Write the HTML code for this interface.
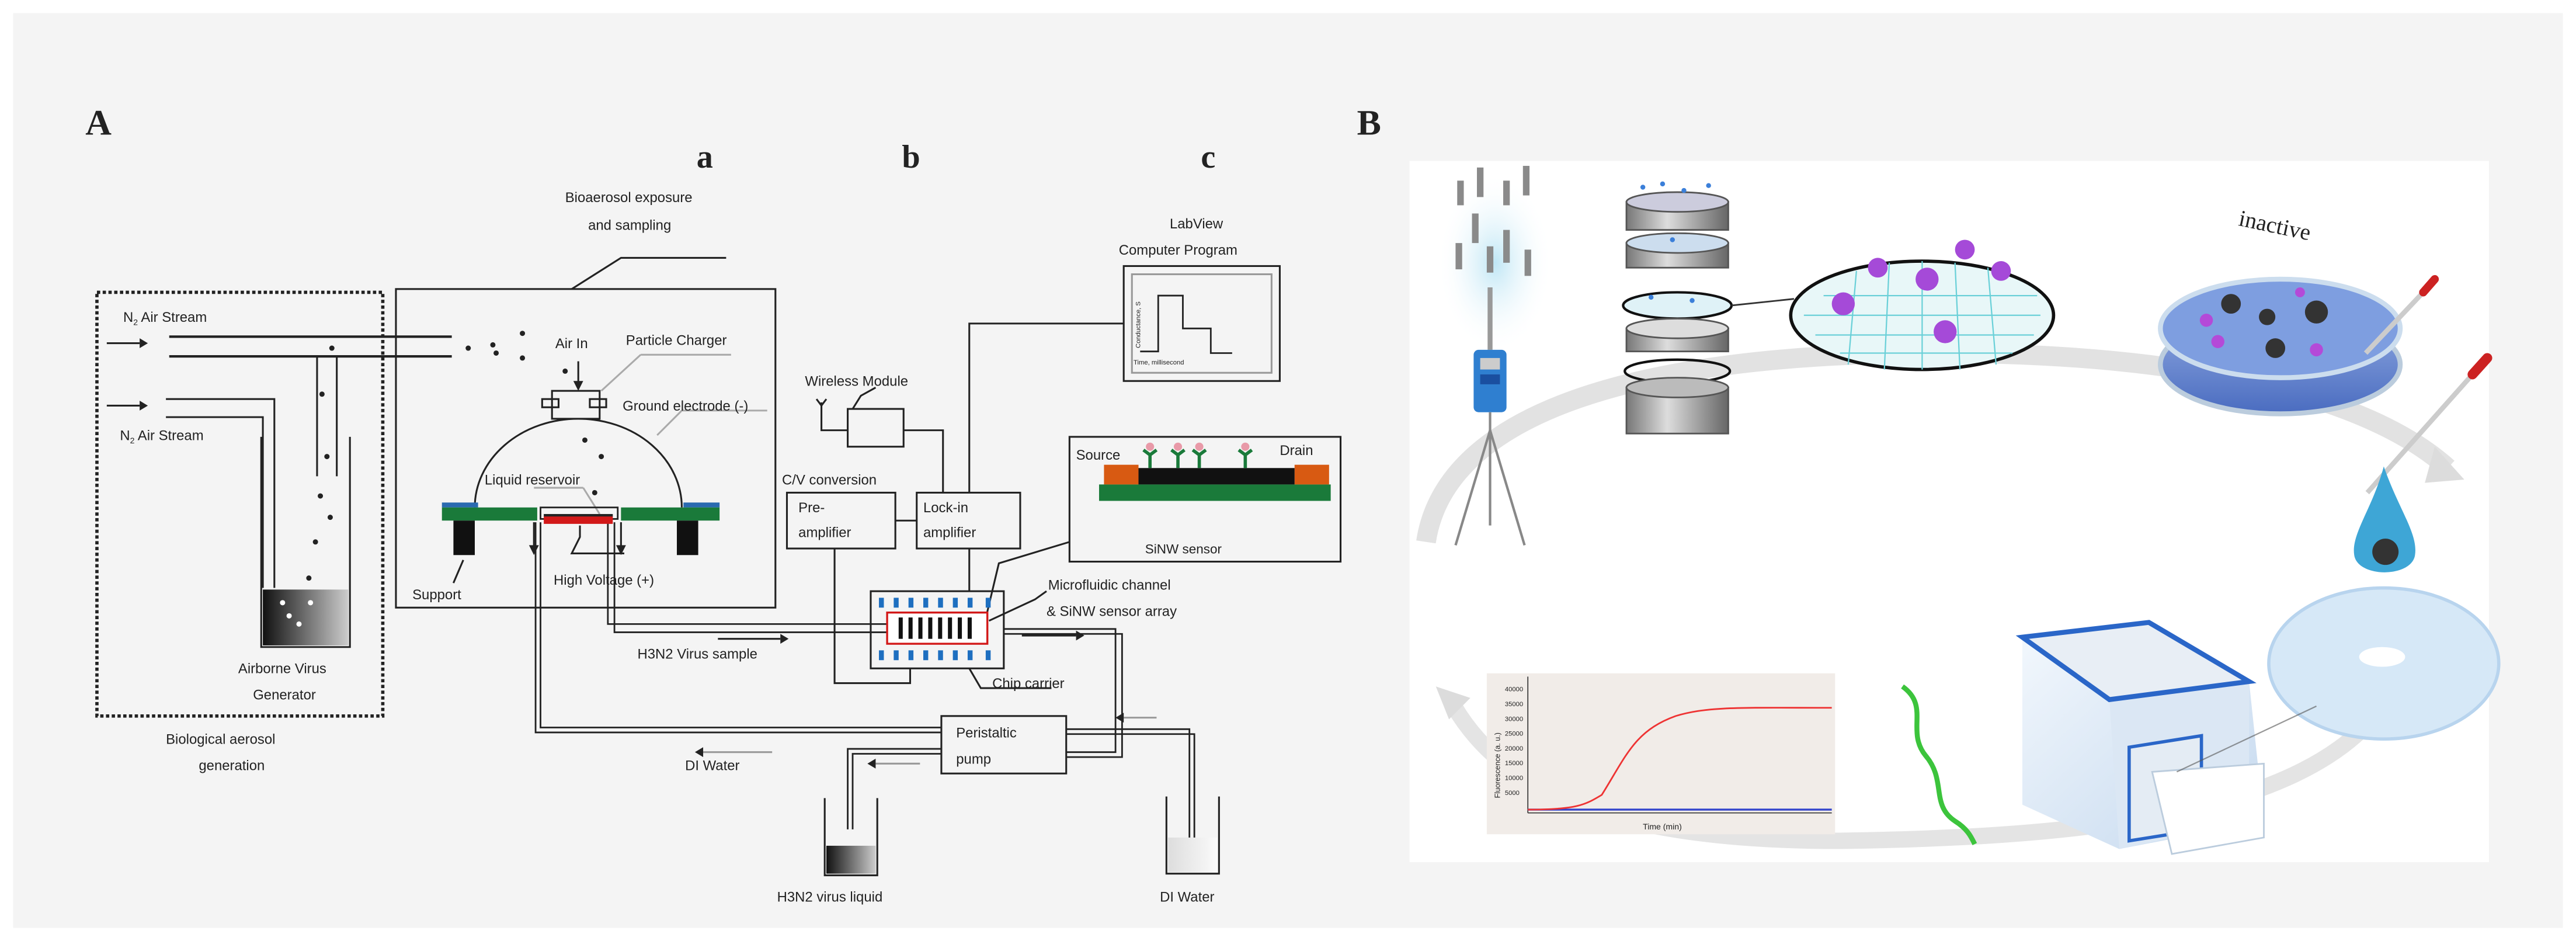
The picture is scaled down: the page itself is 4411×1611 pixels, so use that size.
<!DOCTYPE html>
<html><head><meta charset="utf-8"><style>
html,body{margin:0;padding:0;background:#fff;}
svg{display:block;}
text{font-family:"Liberation Sans",sans-serif;fill:#222;}
.s{font-family:"Liberation Serif",serif;font-weight:bold;}
</style></head><body>
<svg width="4411" height="1611" viewBox="0 0 1568 573" preserveAspectRatio="none" xmlns="http://www.w3.org/2000/svg">
<rect x="0" y="0" width="1568" height="573" fill="#fff"/>
<rect x="8" y="8" width="1552" height="557" fill="#f4f4f4"/>
<text class="s" x="52" y="82" font-size="22">A</text>
<text class="s" x="424" y="102" font-size="20">a</text>
<text class="s" x="549" y="102" font-size="20">b</text>
<text class="s" x="731" y="102" font-size="20">c</text>
<text class="s" x="826" y="82" font-size="22">B</text>

<g stroke="#222" fill="none" stroke-width="1.1">
<rect x="59" y="178" width="174" height="258" stroke-dasharray="2,1.5" stroke-width="2"/>
<rect x="241" y="176" width="231" height="194"/>
<polyline points="348,176 378,157 442,157"/>
<line x1="103" y1="205" x2="275" y2="205" stroke-width="1.5"/>
<line x1="103" y1="217" x2="275" y2="217" stroke-width="1.5"/>
<polyline points="193,217 193,290"/>
<polyline points="205,217 205,290"/>
<polyline points="101,243 167,243 167,358"/>
<polyline points="101,254 160,254 160,358"/>
<polyline points="159,266 159,394 213,394 213,266"/>
<line x1="65" y1="209" x2="85" y2="209"/><line x1="65" y1="247" x2="85" y2="247"/>
<path d="M289,309 A63,54 0 0 1 415,309"/>
<rect x="336" y="238" width="29" height="17" fill="#f4f4f4"/>
<rect x="330" y="243" width="10" height="5"/><rect x="359" y="243" width="10" height="5"/>
<line x1="352" y1="220" x2="352" y2="234"/>
<line x1="366" y1="238" x2="390" y2="216" stroke="#aaa"/><line x1="390" y1="216" x2="445" y2="216" stroke="#aaa"/>
<line x1="400" y1="265" x2="415" y2="250" stroke="#aaa"/><line x1="415" y1="250" x2="467" y2="250" stroke="#aaa"/>
<line x1="325" y1="297" x2="355" y2="297" stroke="#aaa"/><line x1="355" y1="297" x2="365" y2="313" stroke="#aaa"/>
<polyline points="282,341 276,355"/>
<polyline points="353,320 353,327 348,337 380,337"/>
<rect x="684" y="162" width="95" height="70"/>
<rect x="689" y="167" width="85" height="60" stroke="#999"/>
<polyline points="694,214 705,214 705,180 720,180 720,200 737,200 737,215 750,215" stroke-width="1"/>
<polyline points="684,197 590,197 590,300"/>
<rect x="516" y="249" width="34" height="23"/>
<polyline points="500,245 500,262 516,262"/>
<polyline points="497,243 500,247 503,243"/>
<polyline points="550,262 574,262 574,300"/>
<polyline points="519,249 524,241 533,236"/>
<rect x="479" y="300" width="66" height="34"/>
<rect x="558" y="300" width="63" height="34"/>
<line x1="545" y1="317" x2="558" y2="317"/>
<polyline points="508,334 508,416 554,416 554,407"/>
<line x1="590" y1="334" x2="590" y2="360"/>
<rect x="651" y="266" width="165" height="76"/>
<polyline points="651,330 608,343 598,385"/>
<rect x="530" y="360" width="81" height="47"/>
<polyline points="602,378 630,365 637,360"/>
<polyline points="590,407 597,419 640,419"/>
<g stroke-width="1">
<polyline points="326,318 326,446 573,446"/><polyline points="329,318 329,443 573,443"/>
<polyline points="370,318 370,380 540,380"/><polyline points="374,318 374,385 540,385"/>
<polyline points="611,383 679,383 679,458 649,458"/><polyline points="611,386 683,386 683,461 649,461"/>
<polyline points="649,444 724,444 724,520"/><polyline points="649,447 727,447 727,520"/>
<polyline points="573,456 516,456 516,505"/><polyline points="573,459 519,459 519,505"/>
</g>
<rect x="573" y="436" width="76" height="35" fill="#f4f4f4"/>
<polyline points="502,486 502,533 534,533 534,486"/>
<polyline points="710,485 710,532 742,532 742,485"/>
<line x1="437" y1="389" x2="475" y2="389"/>
<line x1="622" y1="387" x2="655" y2="387"/>
<line x1="428" y1="458" x2="470" y2="458" stroke="#999"/>
<line x1="533" y1="465" x2="560" y2="465" stroke="#999"/>
<line x1="684" y1="437" x2="704" y2="437" stroke="#999"/>
<line x1="325" y1="318" x2="325" y2="334"/><line x1="378" y1="318" x2="378" y2="334"/>
</g>
<g fill="#222">
<polygon points="85,206 90,209 85,212"/><polygon points="85,244 90,247 85,250"/>
<polygon points="349,232 355,232 352,238"/>
<polygon points="475,386 480,389 475,392"/><polygon points="655,384 660,387 655,390"/>
<polygon points="428,455 423,458 428,461"/><polygon points="533,462 528,465 533,468"/>
<polygon points="684,434 679,437 684,440"/>
<polygon points="322,332 328,332 325,338"/><polygon points="375,332 381,332 378,338"/>
<circle cx="285" cy="212" r="1.6"/><circle cx="300" cy="210" r="1.6"/><circle cx="302" cy="215" r="1.6"/><circle cx="318" cy="203" r="1.6"/><circle cx="318" cy="218" r="1.6"/><circle cx="344" cy="226" r="1.6"/><circle cx="356" cy="268" r="1.6"/><circle cx="366" cy="278" r="1.6"/><circle cx="362" cy="300" r="1.6"/>
<circle cx="202" cy="212" r="1.6"/><circle cx="196" cy="240" r="1.6"/><circle cx="199" cy="278" r="1.6"/><circle cx="195" cy="302" r="1.6"/><circle cx="201" cy="315" r="1.6"/><circle cx="192" cy="330" r="1.6"/><circle cx="188" cy="352" r="1.6"/>
</g>
<defs>
<linearGradient id="lq" x1="0" y1="0" x2="1" y2="0"><stop offset="0" stop-color="#111"/><stop offset="1" stop-color="#ccc"/></linearGradient>
<linearGradient id="lq2" x1="0" y1="0" x2="1" y2="0"><stop offset="0" stop-color="#ddd"/><stop offset="1" stop-color="#fafafa"/></linearGradient>
</defs>
<rect x="160" y="359" width="52" height="34" fill="url(#lq)"/>
<g fill="#fff"><circle cx="172" cy="367" r="1.6"/><circle cx="176" cy="375" r="1.6"/><circle cx="182" cy="380" r="1.6"/><circle cx="189" cy="367" r="1.6"/></g>
<rect x="503" y="515" width="30" height="17" fill="url(#lq)"/>
<rect x="711" y="510" width="30" height="21" fill="url(#lq2)"/>
<rect x="269" y="306" width="22" height="3" fill="#2a6ab0"/><rect x="416" y="306" width="22" height="3" fill="#2a6ab0"/>
<rect x="269" y="309" width="58" height="8" fill="#1a7a3a"/><rect x="378" y="309" width="60" height="8" fill="#1a7a3a"/>
<rect x="329" y="309" width="47" height="7" fill="none" stroke="#222" stroke-width="1"/>
<rect x="331" y="314" width="42" height="5" fill="#d21818"/><rect x="331" y="313" width="42" height="1.5" fill="#222"/>
<rect x="276" y="317" width="13" height="21" fill="#111"/><rect x="412" y="317" width="13" height="21" fill="#111"/>
<rect x="669" y="295" width="141" height="10" fill="#1a7a3a"/>
<rect x="672" y="283" width="21" height="12" fill="#d85a12"/><rect x="788" y="283" width="21" height="12" fill="#d85a12"/>
<rect x="693" y="285" width="95" height="10" fill="#111"/>
<g stroke="#1a7a3a" stroke-width="2" fill="none">
<path d="M700,285 v-8 M696,274 l4,3 l4,-3"/><path d="M717,285 v-8 M713,274 l4,3 l4,-3"/><path d="M730,285 v-8 M726,274 l4,3 l4,-3"/><path d="M758,285 v-8 M754,274 l4,3 l4,-3"/>
</g>
<g fill="#e89aa8"><circle cx="700" cy="272" r="2.5"/><circle cx="717" cy="272" r="2.5"/><circle cx="730" cy="272" r="2.5"/><circle cx="758" cy="272" r="2.5"/></g>
<g fill="#1e6fc0">
<rect x="535" y="364" width="3" height="6"/><rect x="544" y="364" width="3" height="6"/><rect x="553" y="364" width="3" height="6"/><rect x="562" y="364" width="3" height="6"/><rect x="571" y="364" width="3" height="6"/><rect x="580" y="364" width="3" height="6"/><rect x="589" y="364" width="3" height="6"/><rect x="600" y="364" width="3" height="6"/>
<rect x="535" y="396" width="3" height="6"/><rect x="544" y="396" width="3" height="6"/><rect x="553" y="396" width="3" height="6"/><rect x="562" y="396" width="3" height="6"/><rect x="571" y="396" width="3" height="6"/><rect x="580" y="396" width="3" height="6"/><rect x="589" y="396" width="3" height="6"/><rect x="600" y="396" width="3" height="6"/>
</g>
<rect x="540" y="373" width="61" height="19" fill="#fff" stroke="#d21818" stroke-width="1.2"/>
<g fill="#111"><rect x="547" y="376" width="2.5" height="13"/><rect x="553" y="376" width="2.5" height="13"/><rect x="559" y="376" width="2.5" height="13"/><rect x="565" y="376" width="2.5" height="13"/><rect x="571" y="376" width="2.5" height="13"/><rect x="577" y="376" width="2.5" height="13"/><rect x="583" y="376" width="2.5" height="13"/><rect x="589" y="376" width="2.5" height="13"/></g>
<g font-size="8.5">
<text x="344" y="123">Bioaerosol exposure</text>
<text x="358" y="140">and sampling</text>
<text x="75" y="196">N<tspan font-size="5" dy="2">2</tspan><tspan dy="-2"> Air Stream</tspan></text>
<text x="73" y="268">N<tspan font-size="5" dy="2">2</tspan><tspan dy="-2"> Air Stream</tspan></text>
<text x="145" y="410">Airborne Virus</text>
<text x="154" y="426">Generator</text>
<text x="101" y="453">Biological aerosol</text>
<text x="121" y="469">generation</text>
<text x="338" y="212">Air In</text>
<text x="381" y="210">Particle Charger</text>
<text x="379" y="250">Ground electrode (-)</text>
<text x="295" y="295">Liquid reservoir</text>
<text x="251" y="365">Support</text>
<text x="337" y="356">High Voltage (+)</text>
<text x="712" y="139">LabView</text>
<text x="681" y="155">Computer Program</text>
<text x="490" y="235">Wireless Module</text>
<text x="476" y="295">C/V conversion</text>
<text x="486" y="312">Pre-</text><text x="486" y="327">amplifier</text>
<text x="562" y="312">Lock-in</text><text x="562" y="327">amplifier</text>
<text x="655" y="280">Source</text><text x="779" y="277">Drain</text>
<text x="697" y="337" font-size="8">SiNW sensor</text>
<text x="638" y="359">Microfluidic channel</text>
<text x="637" y="375">&amp; SiNW sensor array</text>
<text x="388" y="401">H3N2 Virus sample</text>
<text x="604" y="419">Chip carrier</text>
<text x="582" y="449">Peristaltic</text><text x="582" y="465">pump</text>
<text x="417" y="469">DI Water</text>
<text x="473" y="549">H3N2 virus liquid</text>
<text x="706" y="549">DI Water</text>
<text x="690" y="222" font-size="4">Time, millisecond</text>
<text x="0" y="0" font-size="4" transform="translate(694,212) rotate(-90)">Conductance, S</text>
</g>

<!-- PANEL B -->
<rect x="858" y="98" width="657" height="427" fill="#fff"/>
<defs>
<radialGradient id="glow"><stop offset="0" stop-color="#bfe6f5"/><stop offset="1" stop-color="#fff" stop-opacity="0"/></radialGradient>
<linearGradient id="met" x1="0" y1="0" x2="1" y2="0"><stop offset="0" stop-color="#777"/><stop offset=".4" stop-color="#ddd"/><stop offset="1" stop-color="#666"/></linearGradient>
<linearGradient id="dish" x1="0" y1="0" x2="0" y2="1"><stop offset="0" stop-color="#8fa8e0"/><stop offset="1" stop-color="#4a6cc0"/></linearGradient>
<linearGradient id="mach" x1="0" y1="0" x2="1" y2="1"><stop offset="0" stop-color="#f3f8fd"/><stop offset="1" stop-color="#c4d8ee"/></linearGradient>
</defs>
<path d="M868,330 C880,250 1000,215 1180,215 C1330,215 1440,240 1490,285" fill="none" stroke="#e2e2e2" stroke-width="12"/>
<polygon points="1482,272 1500,292 1476,294" fill="#dcdcdc"/>
<path d="M1450,430 C1400,500 1250,510 1120,512 C1000,512 920,490 885,430" fill="none" stroke="#e4e4e4" stroke-width="10"/>
<polygon points="874,418 882,438 895,425" fill="#dcdcdc"/>
<ellipse cx="910" cy="160" rx="35" ry="55" fill="url(#glow)"/>
<g fill="#8a8a8a">
<rect x="887" y="110" width="4" height="15"/><rect x="899" y="102" width="4" height="18"/><rect x="915" y="110" width="4" height="15"/><rect x="927" y="101" width="4" height="18"/>
<rect x="896" y="130" width="4" height="18"/><rect x="905" y="150" width="4" height="16"/><rect x="915" y="140" width="4" height="20"/><rect x="886" y="148" width="4" height="16"/><rect x="928" y="152" width="4" height="16"/>
</g>
<line x1="907" y1="175" x2="907" y2="213" stroke="#999" stroke-width="3"/>
<rect x="897" y="213" width="20" height="38" rx="3" fill="#2f7fd0"/>
<rect x="901" y="218" width="12" height="7" fill="#ccc"/><rect x="901" y="228" width="12" height="6" fill="#1a4fa0"/>
<g stroke="#888" stroke-width="1.5"><line x1="907" y1="251" x2="907" y2="320"/><line x1="907" y1="262" x2="886" y2="332"/><line x1="907" y1="262" x2="928" y2="332"/></g>
<g stroke="#555" stroke-width="1">
<rect x="990" y="123" width="62" height="17" fill="url(#met)"/><ellipse cx="1021" cy="123" rx="31" ry="6" fill="#ccd"/>
<rect x="990" y="148" width="62" height="15" fill="url(#met)"/><ellipse cx="1021" cy="148" rx="31" ry="6" fill="#cde"/>
<ellipse cx="1021" cy="186" rx="33" ry="8" fill="#dff2f7" stroke="#111" stroke-width="1.5"/>
<rect x="990" y="200" width="62" height="14" fill="url(#met)"/><ellipse cx="1021" cy="200" rx="31" ry="6" fill="#ddd"/>
<ellipse cx="1021" cy="226" rx="32" ry="7" fill="none" stroke="#111" stroke-width="1.5"/>
<rect x="990" y="236" width="62" height="28" fill="url(#met)"/><ellipse cx="1021" cy="236" rx="31" ry="6" fill="#bbb"/>
</g>
<g fill="#3b7fd9"><circle cx="1000" cy="114" r="1.5"/><circle cx="1012" cy="112" r="1.5"/><circle cx="1025" cy="116" r="1.5"/><circle cx="1040" cy="113" r="1.5"/><circle cx="1005" cy="181" r="1.5"/><circle cx="1030" cy="183" r="1.5"/><circle cx="1018" cy="146" r="1.5"/></g>
<line x1="1054" y1="186" x2="1092" y2="182" stroke="#333"/>
<ellipse cx="1170" cy="192" rx="80" ry="33" fill="#e8f7f8" stroke="#111" stroke-width="2"/>
<g stroke="#6ad0d8" stroke-width=".8">
<line x1="1110" y1="180" x2="1240" y2="180"/><line x1="1098" y1="192" x2="1242" y2="192"/><line x1="1105" y1="204" x2="1238" y2="204"/><line x1="1120" y1="215" x2="1225" y2="215"/>
<line x1="1130" y1="165" x2="1125" y2="222"/><line x1="1150" y1="160" x2="1147" y2="225"/><line x1="1170" y1="159" x2="1170" y2="225"/><line x1="1190" y1="160" x2="1193" y2="225"/><line x1="1210" y1="163" x2="1215" y2="222"/>
</g>
<g fill="#a54ad8"><circle cx="1122" cy="185" r="7"/><circle cx="1143" cy="163" r="6"/><circle cx="1173" cy="170" r="7"/><circle cx="1196" cy="152" r="6"/><circle cx="1218" cy="165" r="6"/><circle cx="1184" cy="202" r="7"/></g>
<ellipse cx="1388" cy="222" rx="73" ry="30" fill="url(#dish)" stroke="#bcd" stroke-width="3"/>
<ellipse cx="1388" cy="200" rx="73" ry="30" fill="#7e9ee0" stroke="#cde" stroke-width="3"/>
<g fill="#333"><circle cx="1358" cy="185" r="6"/><circle cx="1380" cy="193" r="5"/><circle cx="1410" cy="190" r="7"/><circle cx="1385" cy="212" r="6"/></g>
<g fill="#b44ad8"><circle cx="1343" cy="195" r="4"/><circle cx="1350" cy="208" r="4"/><circle cx="1400" cy="178" r="3"/><circle cx="1410" cy="213" r="4"/></g>
<text x="1362" y="142" font-size="14" fill="#111" transform="rotate(12 1385 140)" style="font-family:'Liberation Serif',serif">inactive</text>
<line x1="1440" y1="215" x2="1475" y2="178" stroke="#ccc" stroke-width="3"/><line x1="1475" y1="178" x2="1482" y2="170" stroke="#c22" stroke-width="5" stroke-linecap="round"/>
<line x1="1441" y1="300" x2="1505" y2="228" stroke="#ccc" stroke-width="3"/><line x1="1505" y1="228" x2="1514" y2="218" stroke="#c22" stroke-width="6" stroke-linecap="round"/>
<path d="M1451,284 C1460,310 1472,325 1470,338 C1468,352 1435,352 1433,338 C1431,325 1444,310 1451,284Z" fill="#3ea6d6"/>
<circle cx="1452" cy="336" r="8" fill="#333"/>
<ellipse cx="1451" cy="404" rx="70" ry="46" fill="#d6e8f7" stroke="#b8d4ee" stroke-width="2"/>
<ellipse cx="1450" cy="400" rx="14" ry="6" fill="#fff"/>
<!-- machine -->
<polygon points="1231,388 1231,490 1290,517 1378,500 1369,415 1308,379" fill="url(#mach)"/>
<polygon points="1284,426 1369,415 1369,500 1290,517" fill="#dbe7f4"/>
<polygon points="1231,388 1308,379 1369,415 1284,426" fill="#e8eef5" stroke="#2a66c8" stroke-width="3"/>
<polygon points="1296,455 1340,448 1340,505 1296,512" fill="#e4ecf4" stroke="#2a66c8" stroke-width="2"/>
<polygon points="1310,470 1378,465 1378,510 1322,520" fill="#fff" stroke="#bcd" stroke-width="1"/>
<line x1="1325" y1="470" x2="1410" y2="430" stroke="#555" stroke-width=".8" opacity=".6"/>
<!-- chart -->
<rect x="905" y="410" width="212" height="98" fill="#f1ece8"/>
<g font-size="4" fill="#333" style="font-family:'Liberation Serif',serif">
<text x="916" y="421">40000</text><text x="916" y="430">35000</text><text x="916" y="439">30000</text><text x="916" y="448">25000</text><text x="916" y="457">20000</text><text x="916" y="466">15000</text><text x="916" y="475">10000</text><text x="916" y="484">5000</text>
<text x="1000" y="505" font-size="5">Time (min)</text>
<text x="0" y="0" transform="translate(913,486) rotate(-90)" font-size="4.5">Fluorescence (a. u.)</text>
</g>
<line x1="930" y1="412" x2="930" y2="495" stroke="#333" stroke-width=".6"/>
<line x1="930" y1="495" x2="1115" y2="495" stroke="#333" stroke-width=".6"/>
<line x1="930" y1="493" x2="1115" y2="493" stroke="#3344cc" stroke-width="1.2"/>
<path d="M930,493 C960,493 965,490 975,484 C990,460 995,445 1020,436 C1040,430 1060,431 1115,431" fill="none" stroke="#e33" stroke-width="1"/>
<path d="M1158,418 C1175,430 1160,445 1172,460 C1185,475 1175,490 1190,500 C1198,505 1200,510 1202,514" fill="none" stroke="#3cc43c" stroke-width="3"/>
</svg>
</body></html>
